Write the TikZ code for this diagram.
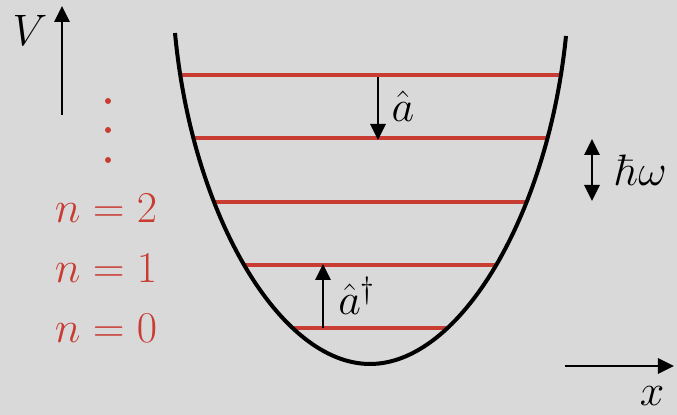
\RequirePackage{fix-cm}
\documentclass[tikz,border=0pt]{standalone}
\usepackage{amsmath}
\usetikzlibrary{arrows.meta,positioning}
\definecolor{wellred}{RGB}{200,60,50}
\definecolor{wellgrey}{RGB}{217,217,217}

\begin{document}
\begin{tikzpicture}[
      x=0.5pt, y=-0.5pt,
      every node/.style={font=\fontsize{22}{26}\selectfont, inner sep=0pt},
      level/.style={draw=wellred, line width=2pt},
      well/.style={draw=black, line width=2pt},
      ladder/.style={line width=1.4pt, -{Triangle[width=7.5pt,length=8pt]}},
      axis/.style={line width=1.4pt, -{Triangle[width=7.5pt,length=8pt]}}
    ]
      % background
      \fill[wellgrey] (0,0) rectangle (677,415);
      \useasboundingbox (0,0) rectangle (677,415);

      % energy levels, clipped to the inside of the well
      \begin{scope}
        \clip (175,33) .. controls (192,215) and (280,364) .. (370,364)
              .. controls (460,364) and (548,215) .. (566,36) -- cycle;
        \foreach \lvl in {75,138,202,265,328}
          \draw[level] (150,\lvl) -- (600,\lvl);
      \end{scope}

      % potential well
      \draw[well] (175,33) .. controls (192,215) and (280,364) .. (370,364)
            .. controls (460,364) and (548,215) .. (566,36);

      % ladder operators
      \coordinate (aTop) at (378,77);
      \coordinate (aBot) at (378,140);
      \draw[ladder] (aTop) -- (aBot);
      \node (aLbl) at (403,106) {$\hat{a}$};

      \coordinate (adBot) at (323,328);
      \coordinate (adTop) at (323,264);
      \draw[ladder] (adBot) -- (adTop);
      \node (adLbl) at (357,296) {$\hat{a}^{\dagger}$};

      % level spacing
      \coordinate (hwTop) at (592,139);
      \coordinate (hwBot) at (592,201);
      \draw[line width=1.4pt, {Triangle[width=7.5pt,length=8pt]}-{Triangle[width=7.5pt,length=8pt]}] (hwTop) -- (hwBot);
      \node (hwLbl) at (641,170) {$\hbar\omega$};

      % axes
      \coordinate (vFoot) at (62,115);
      \coordinate (vHead) at (62,6);
      \draw[axis] (vFoot) -- (vHead);
      \node (vLbl) at (30,30) {$V$};

      \coordinate (xFoot) at (565,366);
      \coordinate (xHead) at (674,366);
      \draw[axis] (xFoot) -- (xHead);
      \node (xLbl) at (652,396) {$x$};

      % quantum numbers
      \foreach \dy in {101,130,160}
        \fill[wellred] (108,\dy) circle (1.5pt);
      \node[text=wellred] (n2) at (106,208) {$n=2$};
      \node[text=wellred] (n1) at (106,268) {$n=1$};
      \node[text=wellred] (n0) at (106,328) {$n=0$};
    \end{tikzpicture}
\end{document}
